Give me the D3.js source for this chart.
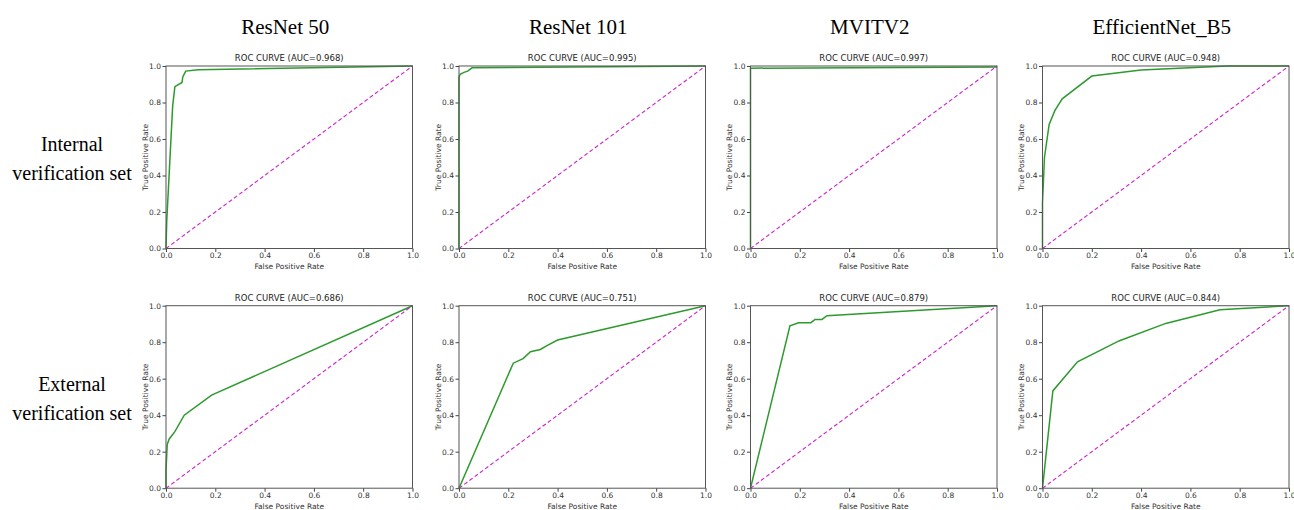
<!DOCTYPE html>
<html><head><meta charset="utf-8">
<script src="https://cdn.jsdelivr.net/npm/d3@7/dist/d3.min.js"></script>
<style>body{margin:0;background:#fff}svg{display:block}</style>
</head><body><svg id="c" width="1294" height="510"></svg>
<script>
const models = ["ResNet 50", "ResNet 101", "MVITV2", "EfficientNet_B5"];
const sets = [["Internal", "verification set"], ["External", "verification set"]];
const ticks = [0, 0.2, 0.4, 0.6, 0.8, 1.0];
const aucInternal = ["0.968", "0.995", "0.997", "0.948"];
const aucExternal = ["0.686", "0.751", "0.879", "0.844"];
const rocResNet50Int = [[0,0],[0.003,0.15],[0.027,0.78],[0.036,0.887],[0.065,0.91],[0.068,0.94],[0.08,0.972],[0.13,0.98],[1,1]];
const rocResNet101Int = [[0,0],[0,0.94],[0.005,0.955],[0.02,0.965],[0.035,0.972],[0.053,0.99],[1,1]];
const rocMVITV2Int = [[0,0],[0,0.988],[1,0.995]];
const rocEffB5Int = [[0,0],[0,0.25],[0.008,0.5],[0.027,0.68],[0.05,0.755],[0.08,0.82],[0.2,0.945],[0.4,0.978],[0.75,1],[1,1]];
const rocResNet50Ext = [[0,0],[0,0.1],[0.005,0.24],[0.013,0.27],[0.036,0.31],[0.074,0.4],[0.185,0.51],[1,1]];
const rocResNet101Ext = [[0,0],[0.22,0.685],[0.26,0.71],[0.29,0.748],[0.33,0.76],[0.355,0.78],[0.4,0.812],[1,1]];
const rocMVITV2Ext = [[0,0],[0.16,0.89],[0.195,0.907],[0.245,0.907],[0.262,0.925],[0.29,0.925],[0.31,0.945],[1,1]];
const rocEffB5Ext = [[0,0],[0.042,0.533],[0.142,0.693],[0.31,0.807],[0.5,0.903],[0.72,0.978],[1,1]];
const diagonal = [[0,0],[1,1]];

const curves = [
  [rocResNet50Int, rocResNet101Int, rocMVITV2Int, rocEffB5Int],
  [rocResNet50Ext, rocResNet101Ext, rocMVITV2Ext, rocEffB5Ext]
];
const aucs = [aucInternal, aucExternal];

const svg = d3.select("#c");
const colLeft = [166, 459, 750.5, 1042.5];
const plotW = 246.5;
const rowTop = [66, 305.7];
const plotH = 182.5;

models.forEach((m, j) => {
  svg.append("text").attr("x", colLeft[j] + plotW/2 - 4).attr("y", 34)
    .attr("text-anchor", "middle").attr("font-family", "Liberation Serif, Times New Roman, serif")
    .attr("font-size", 21).attr("fill", "#000").text(m);
});
sets.forEach((s, i) => {
  const cy = [145, 385][i];
  s.forEach((t, k) => {
    svg.append("text").attr("x", 72).attr("y", cy + k*29 + 6)
      .attr("text-anchor", "middle").attr("font-family", "Liberation Serif, Times New Roman, serif")
      .attr("font-size", 20).attr("fill", "#000").text(t);
  });
});

const font = "DejaVu Sans, sans-serif";
for (let i = 0; i < 2; i++) {
  for (let j = 0; j < 4; j++) {
    const x = d3.scaleLinear().domain([0,1]).range([colLeft[j], colLeft[j] + plotW]);
    const y = d3.scaleLinear().domain([0,1]).range([rowTop[i] + plotH, rowTop[i]]);
    const g = svg.append("g");
    const line = d3.line().x(d => x(d[0])).y(d => y(d[1]));
    g.append("path").datum(curves[i][j]).attr("d", line)
      .attr("fill", "none").attr("stroke", "#2e9a2e").attr("stroke-width", 1.5);
    g.append("path").datum(diagonal).attr("d", line)
      .attr("fill", "none").attr("stroke", "#cc22cc").attr("stroke-width", 1.1)
      .attr("stroke-dasharray", "4,2.5");
    const xa = g.append("g").attr("transform", `translate(0,${rowTop[i] + plotH})`)
      .call(d3.axisBottom(x).tickValues(ticks).tickFormat(d3.format(".1f")).tickSize(3.5).tickSizeOuter(0));
    const ya = g.append("g").attr("transform", `translate(${colLeft[j]},0)`)
      .call(d3.axisLeft(y).tickValues(ticks).tickFormat(d3.format(".1f")).tickSize(3.5).tickSizeOuter(0));
    [xa, ya].forEach(a => {
      a.select(".domain").remove();
      a.selectAll("line").attr("stroke", "#444");
      a.selectAll("text").attr("font-family", font).attr("font-size", 7.5).attr("fill", "#333");
    });
    xa.selectAll("text").attr("y", 4.5);
    ya.selectAll("text").attr("x", -5);
    g.append("rect").attr("x", colLeft[j]).attr("y", rowTop[i]).attr("width", plotW).attr("height", plotH)
      .attr("fill", "none").attr("stroke", "#555").attr("stroke-width", 1);
    g.append("text").attr("x", colLeft[j] + plotW/2).attr("y", rowTop[i] - 5)
      .attr("text-anchor", "middle").attr("font-family", font).attr("font-size", 8.5).attr("fill", "#222")
      .text(`ROC CURVE (AUC=${aucs[i][j]})`);
    g.append("text").attr("x", colLeft[j] + plotW/2).attr("y", rowTop[i] + plotH + 20.5)
      .attr("text-anchor", "middle").attr("font-family", font).attr("font-size", 7.5).attr("fill", "#333")
      .text("False Positive Rate");
    g.append("text").attr("transform", `translate(${colLeft[j] - 18.5},${rowTop[i] + plotH/2}) rotate(-90)`)
      .attr("text-anchor", "middle").attr("font-family", font).attr("font-size", 7.5).attr("fill", "#333")
      .text("True Positive Rate");
  }
}
</script></body></html>
